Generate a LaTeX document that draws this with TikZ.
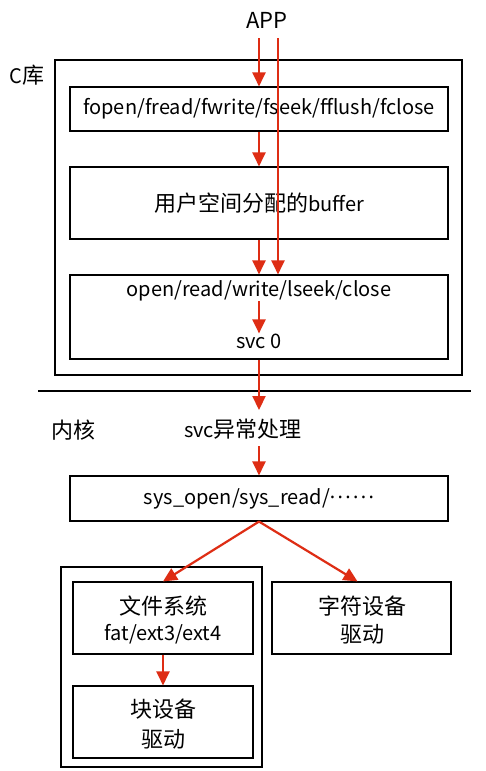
\documentclass[tikz,border=0pt]{standalone}
\usepackage{fontspec}
\setmainfont{Noto Sans CJK SC}
\newfontfamily\dotfont[LetterSpace=12]{Noto Sans}
\usetikzlibrary{arrows.meta}
\definecolor{arr}{RGB}{222,45,20}
\newcommand\zh[1]{{\fontsize{22}{26}\selectfont #1}}
\tikzset{x=1pt,y=-1pt,
  box/.style={draw=black,line width=1.1pt,inner sep=0pt},
  redarr/.style={draw=arr,line width=2.2pt,-{Triangle[length=14pt,width=13pt,fill=arr]}},
  lbl/.style={inner sep=0pt,font=\fontsize{20}{24}\selectfont},
  biglbl/.style={inner sep=0pt,font=\fontsize{22}{26}\selectfont}}
\begin{document}
\begin{tikzpicture}
\useasboundingbox[fill=white] (0,0) rectangle (486,771);
% boxes
\node[box,minimum width=407pt,minimum height=315pt] (clib) at (258.5,217.5) {};
\node[box,minimum width=378pt,minimum height=44pt] (fopen) at (259,109) {};
\node[box,minimum width=378pt,minimum height=72pt] (buf) at (259,203) {};
\node[box,minimum width=378pt,minimum height=84pt] (open) at (259,317) {};
\node[box,minimum width=378pt,minimum height=45pt] (sys) at (259,498.5) {};
\node[box,minimum width=201pt,minimum height=200pt] (kfs) at (161.5,667) {};
\node[box,minimum width=180pt,minimum height=72pt] (fs) at (163,618) {};
\node[box,minimum width=180pt,minimum height=72pt] (blk) at (163,722) {};
\node[box,minimum width=179pt,minimum height=72pt] (chr) at (361.5,618) {};
% separator
\coordinate (sepL) at (38,391);
\coordinate (sepR) at (471,391);
\draw[line width=1.6pt] (sepL) -- (sepR);
% texts
\node[biglbl] (app) at (267,20) {APP};
\node[lbl] (clab) at (27,75) {C\zh{库}};
\node[lbl] (klab) at (73,430) {\zh{内核}};
\node[lbl] at (fopen.center) {fopen/fread/fwrite/fseek/fflush/fclose};
\node[lbl] at (buf.center) {\zh{用户空间分配的}buffer};
\node[lbl] (opentxt) at (259,291) {open/read/write/lseek/close};
\node[lbl] (svctxt) at (259,341) {svc 0};
\node[lbl] (svch) at (243,429) {svc\zh{异常处理}};
\node[lbl] at (sys.center) {sys\_open/sys\_read/{\dotfont ······}};
\node[lbl] at (163,606) {\zh{文件系统}};
\node[lbl] at (163,634) {fat/ext3/ext4};
\node[lbl] at (163,709) {\zh{块设备}};
\node[lbl] at (163,739) {\zh{驱动}};
\node[lbl] at (362,606) {\zh{字符设备}};
\node[lbl] at (362,634) {\zh{驱动}};
% arrows
\coordinate (appL) at (259,38);
\coordinate (appR) at (278,38);
\coordinate (svcin) at (259,410);
\coordinate (svcout) at (259,446);
\draw[redarr] (appL) -- (fopen.north);
\draw[redarr] (appR) -- (appR |- open.north);
\draw[redarr] (fopen.south) -- (buf.north);
\draw[redarr] (buf.south) -- (open.north);
\draw[redarr] (opentxt.south) -- (svctxt.north);
\draw[redarr] (open.south) -- (svcin);
\draw[redarr] (svcout) -- (sys.north);
\draw[redarr] (sys.south) -- (fs.north);
\draw[redarr] (sys.south) -- ([xshift=-4pt]chr.north);
\draw[redarr] (fs.south) -- (blk.north);
\end{tikzpicture}
\end{document}
